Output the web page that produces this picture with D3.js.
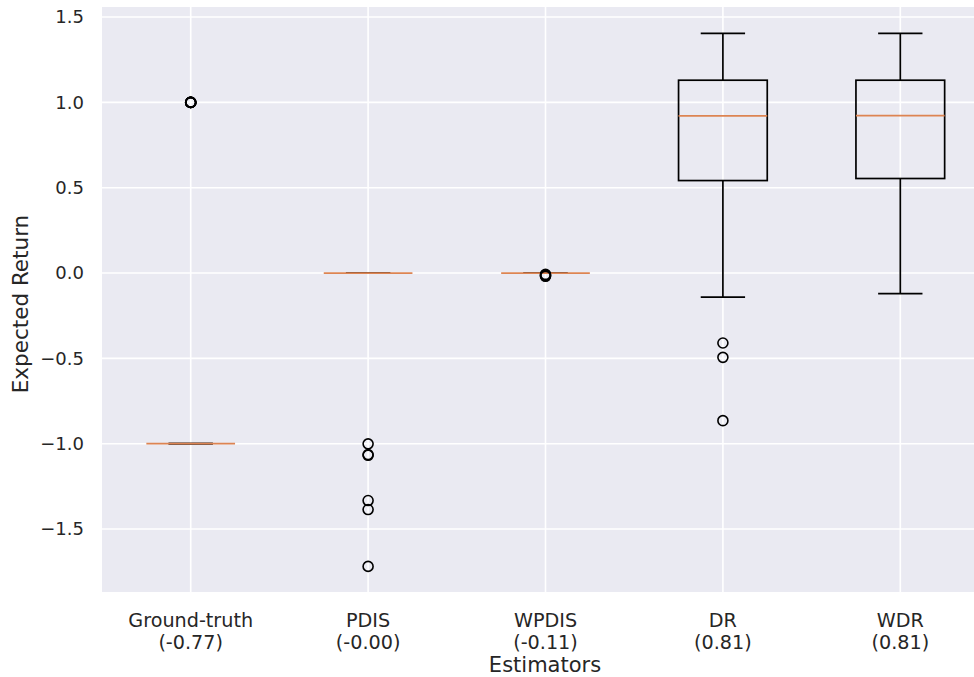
<!DOCTYPE html>
<html>
<head>
<meta charset="utf-8">
<script src="https://cdn.jsdelivr.net/npm/d3@7"></script>
<style>
body { margin:0; background:#fff; }
text { font-family:"DejaVu Sans", sans-serif; fill:#262626; }
</style>
</head>
<body>
<div id="chart"></div>
<script>
// box stats
var names = ["Ground-truth", "PDIS", "WPDIS", "DR", "WDR"];
var means = ["(-0.77)", "(-0.00)", "(-0.11)", "(0.81)", "(0.81)"];
var whiskLo = [-1.0, 0.0, 0.0, -0.141, -0.121];
var q1 = [-1.0, 0.0, 0.0, 0.542, 0.554];
var medians = [-1.0, 0.0, 0.0, 0.921, 0.923];
var q3 = [-1.0, 0.0, 0.0, 1.130, 1.130];
var whiskHi = [-1.0, 0.0, 0.0, 1.405, 1.405];
var fliers = [
    [1.0, 1.0, 1.0, 1.0, 1.0, 1.0],
    [-1.001, -1.064, -1.068, -1.333, -1.386, -1.719],
    [-0.008, -0.012, -0.016, -0.019],
    [-0.41, -0.494, -0.865],
    []
];
var yTicks = [-1.5, -1.0, -0.5, 0.0, 0.5, 1.0, 1.5];

var W = 974, H = 677;
var margin = {t:7, r:0, b:85, l:102};
var width = W - margin.l - margin.r,
    height = H - margin.t - margin.b;

var svg = d3.select("#chart").append("svg")
    .attr("width", W)
    .attr("height", H);

var g = svg.append("g")
    .attr("transform", "translate(" + margin.l + "," + margin.t + ")");

var scaleX = d3.scaleLinear().domain([0.5, 5.5]).range([0, 177.4 * 5]);
var scaleY = d3.scaleLinear().domain([-1.869, 1.559]).range([height, 0]);

g.append("rect")
    .attr("width", width)
    .attr("height", height)
    .attr("fill", "#eaeaf2");

// grid
g.selectAll(".gy").data(yTicks).enter().append("line")
    .attr("x1", 0).attr("x2", width)
    .attr("y1", function(d){ return scaleY(d); })
    .attr("y2", function(d){ return scaleY(d); })
    .attr("stroke", "#fff").attr("stroke-width", 1.6);
g.selectAll(".gx").data(names).enter().append("line")
    .attr("x1", function(d,i){ return scaleX(i+1); })
    .attr("x2", function(d,i){ return scaleX(i+1); })
    .attr("y1", 0).attr("y2", height)
    .attr("stroke", "#fff").attr("stroke-width", 1.6);

var fmt = function(d){ return d3.format(".1f")(d).replace("-", "\u2212"); };
var axisY = d3.axisLeft(scaleY).tickValues(yTicks).tickFormat(fmt).tickSize(0).tickPadding(18);
var yg = g.append("g").call(axisY);
yg.select(".domain").remove();
yg.selectAll("text").style("font-size", "18px").attr("fill", "#262626");

var axisX = d3.axisBottom(scaleX).tickValues([1,2,3,4,5]).tickFormat("").tickSize(0);
var xg = g.append("g").attr("transform", "translate(0," + height + ")").call(axisX);
xg.select(".domain").remove();

names.forEach(function(n, i){
    var t = g.append("text")
        .attr("x", scaleX(i+1))
        .attr("y", height + 35)
        .attr("text-anchor", "middle")
        .style("font-size", "19.2px");
    t.append("tspan").attr("x", scaleX(i+1)).text(n);
    t.append("tspan").attr("x", scaleX(i+1)).attr("dy", 21.5).text(means[i]);
});

svg.append("text")
    .attr("x", 545)
    .attr("y", 672)
    .attr("text-anchor", "middle")
    .style("font-size", "21px")
    .text("Estimators");

svg.append("text")
    .attr("transform", "translate(28,304) rotate(-90)")
    .attr("text-anchor", "middle")
    .style("font-size", "21.5px")
    .text("Expected Return");

// boxes
var boxW = 0.5, capW = 0.25;
var boxes = g.selectAll(".box").data(names).enter().append("g").attr("class", "box");
var lw = 1.7;

boxes.append("line")
    .attr("x1", function(d,i){ return scaleX(i+1); })
    .attr("x2", function(d,i){ return scaleX(i+1); })
    .attr("y1", function(d,i){ return scaleY(whiskHi[i]); })
    .attr("y2", function(d,i){ return scaleY(q3[i]); })
    .attr("stroke", "#000").attr("stroke-width", lw);
boxes.append("line")
    .attr("x1", function(d,i){ return scaleX(i+1); })
    .attr("x2", function(d,i){ return scaleX(i+1); })
    .attr("y1", function(d,i){ return scaleY(q1[i]); })
    .attr("y2", function(d,i){ return scaleY(whiskLo[i]); })
    .attr("stroke", "#000").attr("stroke-width", lw);
[whiskHi, whiskLo].forEach(function(arr){
    boxes.append("line")
        .attr("x1", function(d,i){ return scaleX(i+1 - capW/2); })
        .attr("x2", function(d,i){ return scaleX(i+1 + capW/2); })
        .attr("y1", function(d,i){ return scaleY(arr[i]); })
        .attr("y2", function(d,i){ return scaleY(arr[i]); })
        .attr("stroke", "#000").attr("stroke-width", lw);
});
boxes.append("rect")
    .attr("x", function(d,i){ return scaleX(i+1 - boxW/2); })
    .attr("width", scaleX(1 + boxW) - scaleX(1))
    .attr("y", function(d,i){ return scaleY(q3[i]); })
    .attr("height", function(d,i){ return scaleY(q1[i]) - scaleY(q3[i]); })
    .attr("fill", "none")
    .attr("stroke", "#000").attr("stroke-width", lw);
boxes.append("line")
    .attr("x1", function(d,i){ return scaleX(i+1 - boxW/2); })
    .attr("x2", function(d,i){ return scaleX(i+1 + boxW/2); })
    .attr("y1", function(d,i){ return scaleY(medians[i]); })
    .attr("y2", function(d,i){ return scaleY(medians[i]); })
    .attr("stroke", "#dd8452").attr("stroke-width", lw);

boxes.each(function(d, i){
    d3.select(this).selectAll("circle").data(fliers[i]).enter().append("circle")
        .attr("cx", scaleX(i+1))
        .attr("cy", function(v){ return scaleY(v); })
        .attr("r", 5)
        .attr("fill", "none")
        .attr("stroke", "#000")
        .attr("stroke-width", 1.6);
});
</script>
</body>
</html>
